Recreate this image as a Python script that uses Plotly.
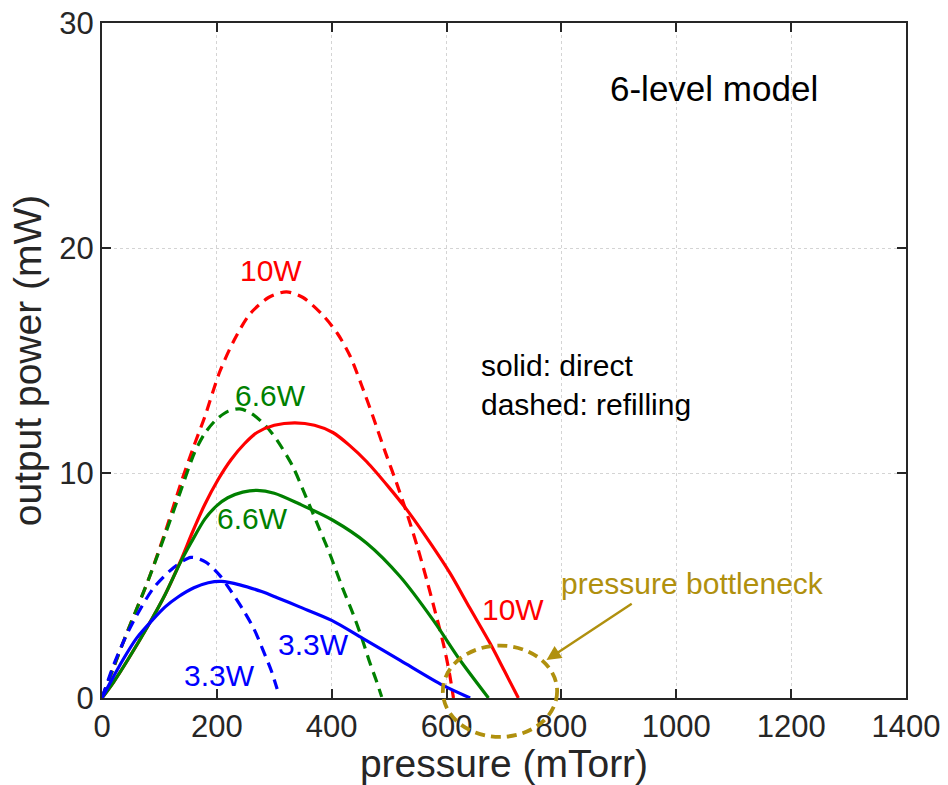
import plotly.graph_objects as go

# ---- data ----
red_solid_x = [0, 20, 45, 80, 110, 137, 158, 179, 202, 225, 248, 270, 300, 336, 370, 402, 430, 461, 500, 531, 570, 606, 640, 676, 700, 725]
red_solid_y = [0, 0.7, 1.7, 3.2, 4.6, 6.1, 7.4, 8.6, 9.7, 10.6, 11.3, 11.8, 12.12, 12.23, 12.12, 11.8, 11.25, 10.5, 9.35, 8.36, 6.95, 5.55, 4.02, 2.42, 1.24, 0]

green_solid_x = [0, 20, 45, 80, 110, 137, 155, 179, 200, 219, 245, 270, 300, 344, 402, 461, 519, 577, 623, 673]
green_solid_y = [0, 0.7, 1.7, 3.2, 4.6, 6.05, 6.9, 7.95, 8.55, 8.9, 9.15, 9.23, 9.1, 8.62, 7.9, 6.88, 5.4, 3.45, 1.7, 0]

blue_solid_x = [0, 20, 36, 60, 88, 110, 133, 160, 185, 208, 240, 278, 304, 344, 400, 454, 520, 593, 641]
blue_solid_y = [0, 0.95, 1.68, 2.65, 3.47, 4.05, 4.5, 4.9, 5.12, 5.18, 5.03, 4.73, 4.47, 4.05, 3.45, 2.65, 1.66, 0.57, 0]

red_dash_x = [0, 20, 45, 80, 109, 138, 160, 179, 205, 230, 257, 290, 321, 350, 385, 410, 432, 452, 472, 493, 513, 531, 550, 566, 581, 595, 605, 612]
red_dash_y = [0, 1.35, 3.0, 5.2, 7.3, 9.6, 11.2, 12.5, 14.5, 15.9, 17.05, 17.8, 18.05, 17.8, 17.0, 16.2, 15.2, 13.9, 12.5, 10.95, 9.55, 8.2, 6.65, 5.2, 3.75, 2.35, 1.1, 0]

green_dash_x = [0, 20, 45, 80, 109, 137, 161, 180, 200, 220, 240, 260, 285, 305, 332, 355, 378, 396, 418, 437, 452, 466, 478, 487]
green_dash_y = [0, 1.35, 3.0, 5.2, 7.2, 9.2, 10.9, 11.8, 12.4, 12.75, 12.85, 12.65, 12.1, 11.45, 10.3, 8.95, 7.55, 6.45, 4.95, 3.75, 2.7, 1.6, 0.75, 0.05]

blue_dash_x = [0, 20, 40, 60, 90, 125, 155, 180, 205, 222, 245, 265, 280, 295, 305]
blue_dash_y = [0, 1.45, 2.65, 3.65, 4.9, 5.8, 6.25, 6.05, 5.45, 4.85, 3.95, 3.05, 2.15, 1.2, 0.4]

x_ticks = [0, 200, 400, 600, 800, 1000, 1200, 1400]
y_ticks = [0, 10, 20, 30]
X_RANGE = [0, 1400]
Y_RANGE = [0, 30]

RED, GREEN, BLUE = "#FF0000", "#008000", "#0000FF"
OLIVE = "#B0900E"
DASH = "11px,7px"
LW = 3.2

fig = go.Figure()
series = [
    (red_dash_x, red_dash_y, RED, DASH),
    (green_dash_x, green_dash_y, GREEN, DASH),
    (blue_dash_x, blue_dash_y, BLUE, DASH),
    (red_solid_x, red_solid_y, RED, "solid"),
    (green_solid_x, green_solid_y, GREEN, "solid"),
    (blue_solid_x, blue_solid_y, BLUE, "solid"),
]
for xs, ys, col, dash in series:
    fig.add_trace(go.Scatter(x=xs, y=ys, mode="lines",
                             line=dict(color=col, width=LW, dash=dash, shape="spline", smoothing=0.8),
                             showlegend=False, hoverinfo="skip"))

FONT = "Liberation Sans, Arial, Helvetica, sans-serif"
AX = "#262626"

labels = [
    (294, 18.98, "10W", RED),
    (294, 13.45, "6.6W", GREEN),
    (262, 7.97, "6.6W", GREEN),
    (369, 2.4, "3.3W", BLUE),
    (205, 0.98, "3.3W", BLUE),
    (716, 3.92, "10W", RED),
    (1028, 5.08, "pressure bottleneck", OLIVE),
]
for x, y, t, c in labels:
    fig.add_annotation(x=x, y=y, text=t, showarrow=False, font=dict(family=FONT, size=30, color=c),
                       xanchor="center", yanchor="middle")

fig.add_annotation(x=1066, y=27.1, text="6-level model", showarrow=False,
                   font=dict(family=FONT, size=35, color="black"), xanchor="center", yanchor="middle")
fig.add_annotation(x=656, y=13.9, text="solid: direct<br>dashed: refilling", showarrow=False, align="left",
                   font=dict(family=FONT, size=30, color="black"), xanchor="left", yanchor="middle")

# arrow to the bottleneck ellipse
fig.add_annotation(x=774, y=1.69, ax=925, ay=4.23, axref="x", ayref="y", text="", showarrow=True,
                   arrowhead=2, arrowsize=1.2, arrowwidth=2.4, arrowcolor=OLIVE)

# dashed ellipse (paper coordinates so it can extend below the axis)
cx, cy, rx, ry = 693, 0.3, 99.5, 2.03
def px(v):
    return (v - X_RANGE[0]) / (X_RANGE[1] - X_RANGE[0])
def py(v):
    return (v - Y_RANGE[0]) / (Y_RANGE[1] - Y_RANGE[0])
fig.add_shape(type="circle", xref="paper", yref="paper", x0=px(cx - rx), x1=px(cx + rx),
              y0=py(cy - ry), y1=py(cy + ry), line=dict(color=OLIVE, width=3.8, dash="10px,6px"), layer="above")

axis_common = dict(
    showline=True, linecolor=AX, linewidth=2, mirror="allticks",
    ticks="inside", ticklen=9, tickwidth=2, tickcolor=AX,
    showgrid=True, gridcolor="#D4D4D4", griddash="dot", gridwidth=1.2,
    zeroline=False,
    tickfont=dict(family=FONT, size=31, color=AX),
)
fig.update_xaxes(range=X_RANGE, tickvals=x_ticks, ticktext=[str(v) for v in x_ticks],
                 title=dict(text="pressure (mTorr)", font=dict(family=FONT, size=39, color=AX), standoff=0),
                 **axis_common)
fig.update_yaxes(range=Y_RANGE, tickvals=y_ticks, ticktext=[str(v) for v in y_ticks],
                 title=dict(text="output power (mW)", font=dict(family=FONT, size=39, color=AX), standoff=6),
                 **axis_common)

fig.update_layout(
    width=948, height=785,
    margin=dict(l=102, r=42, t=23, b=87, autoexpand=False),
    plot_bgcolor="white", paper_bgcolor="white",
)
fig.write_html("out.html")
